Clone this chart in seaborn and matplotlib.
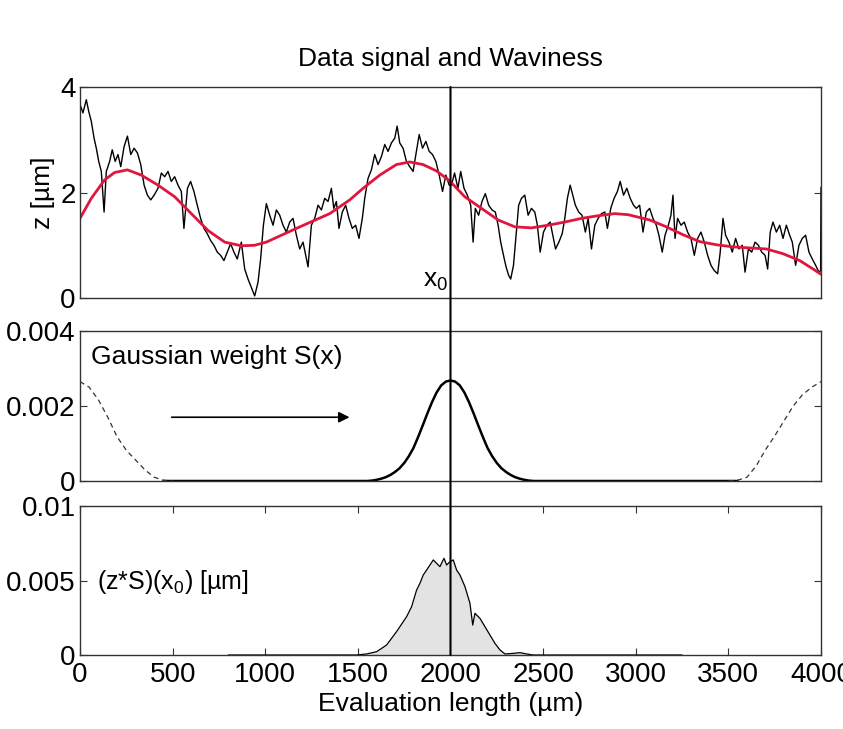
import matplotlib
matplotlib.use("Agg")
import matplotlib.pyplot as plt
from matplotlib.patches import ConnectionPatch
import seaborn as sns

# profile z (um)
z_x = [0, 16, 34, 47, 61, 76, 88, 101, 115, 130, 142, 160, 174, 190, 205, 220, 238, 256, 274, 292,
       310, 328, 346, 364, 382, 400, 421, 439, 457, 475, 493, 511, 529, 547, 561, 580, 597, 615, 633, 651,
       669, 687, 705, 723, 741, 759, 777, 795, 813, 831, 849, 871, 889, 907, 925, 943, 961, 975, 990, 1006,
       1024, 1042, 1060, 1078, 1096, 1114, 1132, 1150, 1168, 1186, 1204, 1222, 1231, 1249, 1267, 1285, 1303, 1321, 1339, 1357,
       1370, 1384, 1398, 1416, 1434, 1452, 1470, 1488, 1506, 1524, 1537, 1555, 1573, 1591, 1609, 1627, 1645, 1663, 1681, 1699,
       1712, 1726, 1744, 1762, 1780, 1798, 1816, 1831, 1849, 1867, 1885, 1903, 1921, 1939, 1957, 1975, 1993, 2005, 2022, 2040,
       2055, 2073, 2091, 2109, 2122, 2134, 2152, 2170, 2188, 2206, 2224, 2242, 2257, 2271, 2286, 2300, 2314, 2325, 2340, 2354,
       2368, 2383, 2401, 2419, 2437, 2455, 2469, 2484, 2502, 2520, 2538, 2552, 2567, 2585, 2603, 2617, 2631, 2646, 2660, 2674,
       2692, 2710, 2728, 2743, 2761, 2779, 2797, 2815, 2833, 2847, 2865, 2883, 2901, 2916, 2934, 2952, 2970, 2988, 3003, 3021,
       3039, 3057, 3075, 3093, 3111, 3125, 3143, 3158, 3176, 3190, 3201, 3212, 3226, 3244, 3262, 3280, 3298, 3316, 3334, 3352,
       3370, 3388, 3406, 3424, 3442, 3456, 3471, 3485, 3503, 3521, 3539, 3557, 3575, 3590, 3608, 3626, 3644, 3662, 3680, 3698,
       3712, 3726, 3741, 3759, 3777, 3795, 3813, 3831, 3845, 3863, 3881, 3899, 3917, 3935, 3953, 3971, 3989, 3998, 4000]
z_val = [3.67, 3.51, 3.76, 3.54, 3.35, 3.03, 2.84, 2.59, 2.40, 1.63, 2.40, 2.59, 2.81, 2.59, 2.72, 2.49, 2.87, 3.07, 2.72, 2.84,
         2.75, 2.53, 2.14, 1.95, 1.86, 1.95, 2.08, 2.37, 2.30, 2.40, 2.21, 2.30, 2.14, 2.02, 1.32, 2.08, 2.21, 2.02, 1.76, 1.51,
         1.32, 1.22, 1.09, 1.00, 0.87, 0.81, 0.71, 0.87, 1.03, 0.87, 0.74, 1.06, 0.55, 0.36, 0.20, 0.04, 0.30, 0.74, 1.38, 1.79,
         1.57, 1.38, 1.67, 1.57, 1.38, 1.25, 1.44, 1.51, 1.19, 0.93, 1.06, 0.74, 0.59, 1.38, 1.51, 1.76, 1.67, 1.89, 1.83, 2.08,
         1.70, 1.83, 1.32, 1.63, 1.76, 1.51, 1.32, 1.38, 1.13, 1.51, 1.89, 2.27, 2.43, 2.72, 2.53, 2.68, 2.91, 2.78, 2.94, 3.03,
         3.26, 2.94, 2.84, 2.59, 2.49, 2.40, 2.78, 3.10, 2.84, 2.97, 2.78, 2.72, 2.59, 2.33, 2.02, 2.33, 2.14, 2.14, 2.37, 2.08,
         2.40, 2.08, 1.95, 1.76, 1.06, 1.70, 1.57, 1.83, 1.98, 1.76, 1.67, 1.63, 1.38, 1.06, 0.81, 0.59, 0.43, 0.36, 0.62, 1.19,
         1.76, 1.89, 1.95, 1.57, 1.70, 1.63, 1.38, 0.87, 1.25, 1.38, 1.44, 1.19, 0.93, 1.06, 1.22, 1.51, 1.89, 2.14, 1.95, 1.76,
         1.63, 1.57, 1.25, 1.51, 0.93, 1.38, 1.51, 1.60, 1.63, 1.32, 1.70, 1.89, 2.02, 2.21, 1.95, 2.08, 1.89, 1.76, 1.70, 1.76,
         1.25, 1.63, 1.70, 1.51, 1.38, 1.19, 0.87, 1.19, 1.38, 1.57, 1.95, 1.13, 1.51, 1.38, 1.44, 1.25, 1.13, 0.81, 1.13, 1.25,
         1.06, 0.81, 0.62, 0.52, 0.46, 0.87, 1.51, 1.19, 1.06, 0.87, 1.13, 0.93, 1.00, 0.49, 0.93, 0.87, 1.06, 1.00, 0.87, 0.81,
         0.55, 1.25, 1.44, 1.25, 1.38, 1.13, 1.38, 1.19, 1.06, 0.62, 1.00, 1.13, 1.19, 0.87, 0.74, 0.62, 0.49, 0.52, 2.10]

# waviness (red)
w_x = [0, 61, 133, 187, 256, 331, 421, 511, 601, 691, 781, 871, 943, 1006, 1168, 1348, 1456, 1528, 1618, 1708,
       1780, 1852, 1924, 1996, 2077, 2167, 2257, 2347, 2437, 2527, 2617, 2707, 2797, 2887, 2959, 3075, 3165, 3255, 3345, 3435,
       3525, 3615, 3705, 3795, 3885, 3957, 4000]
w_val = [1.51, 1.89, 2.24, 2.38, 2.43, 2.33, 2.14, 1.92, 1.60, 1.28, 1.06, 0.99, 1.00, 1.06, 1.32, 1.60, 1.86, 2.08, 2.33, 2.53,
         2.58, 2.53, 2.41, 2.22, 1.92, 1.70, 1.48, 1.35, 1.33, 1.38, 1.44, 1.51, 1.56, 1.60, 1.58, 1.48, 1.35, 1.20, 1.07, 1.01,
         0.97, 0.95, 0.93, 0.84, 0.71, 0.55, 0.45]

# gaussian weight S(x), window at x0 = 2000
s_x = [450, 1550, 1575, 1600, 1625, 1650, 1675, 1700, 1725, 1750, 1775, 1800, 1825, 1850, 1875, 1900, 1925, 1950, 1975, 2000,
       2025, 2050, 2075, 2100, 2125, 2150, 2175, 2200, 2225, 2250, 2275, 2300, 2325, 2350, 2375, 2400, 2425, 2450, 3550]
s_val = [0, 0, 0.00001, 0.00003, 0.00006, 0.0001, 0.00016, 0.00024, 0.00034, 0.00048, 0.00066, 0.00088, 0.00117, 0.00148,
         0.0018, 0.0021, 0.00236, 0.00255, 0.00265, 0.00268,
         0.00265, 0.00255, 0.00236, 0.0021, 0.0018, 0.00148, 0.00117, 0.00088, 0.00066, 0.00048, 0.00034, 0.00024, 0.00016,
         0.0001, 0.00006, 0.00003, 0.00001, 0, 0]
s_left_x = [0, 50, 100, 150, 200, 250, 300, 350, 400, 450, 500]
s_left_val = [0.00265, 0.0025, 0.00216, 0.0017, 0.00118, 0.00082, 0.00056, 0.0003, 0.0001, 0.00002, 0]
s_right_x = [3500, 3550, 3600, 3650, 3700, 3750, 3800, 3850, 3900, 3950, 4000]
s_right_val = [0, 0.00002, 0.0001, 0.0004, 0.00083, 0.0012, 0.0016, 0.002, 0.0023, 0.0025, 0.00265]

# product (z*S)(x0)
p_x = [800, 1493, 1547, 1601, 1655, 1709, 1763, 1790, 1817, 1835, 1853, 1871, 1889, 1907, 1925, 1943, 1965, 1979, 1997, 2015,
       2033, 2051, 2078, 2105, 2120, 2132, 2159, 2186, 2213, 2240, 2267, 2294, 2339, 2375, 2411, 2447, 3250]
p_val = [0, 0, 0.00007, 0.00022, 0.00067, 0.00157, 0.00257, 0.00324, 0.00436, 0.00481, 0.00537, 0.0057, 0.00604, 0.00638,
         0.00615, 0.00593, 0.00649, 0.00604, 0.00626, 0.00638, 0.0057, 0.00537, 0.00459, 0.00347, 0.00201, 0.0028, 0.00246,
         0.0019, 0.00134, 0.00078, 0.00034, 0.00007, 0.00011, 0.00016, 0.00007, 0, 0]

x_ticks = [0, 500, 1000, 1500, 2000, 2500, 3000, 3500, 4000]
x0 = 2000

sns.set_theme(style="white")
plt.rcParams["font.family"] = ["Liberation Sans", "DejaVu Sans"]
plt.rcParams["mathtext.fontset"] = "custom"
plt.rcParams["mathtext.rm"] = "Liberation Sans"
plt.rcParams["mathtext.it"] = "Liberation Sans"
for key in ("text.color", "axes.labelcolor", "xtick.color", "ytick.color"):
    plt.rcParams[key] = "black"

fig = plt.figure(figsize=(8.43, 7.29), dpi=100)
ax1 = fig.add_axes([0.0949, 0.5912, 0.879, 0.2894])
ax2 = fig.add_axes([0.0949, 0.3402, 0.879, 0.2058])
ax3 = fig.add_axes([0.0949, 0.1015, 0.879, 0.2044])

# top: signal and waviness
sns.lineplot(x=z_x, y=z_val, ax=ax1, color="black", lw=1.0, estimator=None, sort=False)
sns.lineplot(x=w_x, y=w_val, ax=ax1, color="#e0163f", lw=2.0, estimator=None, sort=False)
ax1.set_ylim(0, 4)
ax1.set_yticks([0, 2, 4])
ax1.set_yticklabels(["0", "2", "4"])
ax1.set_ylabel("z [µm]", fontsize=19, labelpad=4)
ax1.set_title("Data signal and Waviness", fontsize=19, pad=15)
ax1.text(1850, 0.1, "x$_0$", fontsize=19, ha="left", va="bottom")

# middle: gaussian weight
sns.lineplot(x=s_x, y=s_val, ax=ax2, color="black", lw=1.8, estimator=None, sort=False)
sns.lineplot(x=s_left_x, y=s_left_val, ax=ax2, color="#333333", lw=0.9, linestyle=(0, (4, 3)),
             estimator=None, sort=False)
sns.lineplot(x=s_right_x, y=s_right_val, ax=ax2, color="#333333", lw=0.9, linestyle=(0, (4, 3)),
             estimator=None, sort=False)
ax2.set_ylim(0, 0.004)
ax2.set_yticks([0, 0.002, 0.004])
ax2.set_yticklabels(["0", "0.002", "0.004"])
ax2.text(60, 0.0033, "Gaussian weight S(x)", fontsize=19, va="center")
ax2.annotate("", xy=(1470, 0.0017), xytext=(480, 0.0017),
             arrowprops=dict(arrowstyle="-|>", color="black", lw=1.2, mutation_scale=16))

# bottom: product
ax3.fill_between(p_x, p_val, color="#e3e3e3", lw=0)
sns.lineplot(x=p_x, y=p_val, ax=ax3, color="black", lw=0.9, estimator=None, sort=False)
ax3.set_ylim(0, 0.01)
ax3.set_yticks([0, 0.005, 0.01])
ax3.set_yticklabels(["0", "0.005", "0.01"])
ax3.set_xticks(x_ticks)
ax3.set_xticklabels([str(t) for t in x_ticks])
ax3.set_xlabel("Evaluation length (µm)", fontsize=19, labelpad=3)
ax3.text(90, 0.0049, "(z*S)(x$_0$) [µm]", fontsize=18, va="center")

for ax in (ax1, ax2, ax3):
    ax.set_xlim(0, 4000)
    ax.tick_params(direction="in", length=5, width=0.8, labelsize=20, pad=3,
                   left=True, right=True, top=True, bottom=True, color="#333333")
    for sp in ax.spines.values():
        sp.set_visible(True)
        sp.set_color("#333333")
        sp.set_linewidth(1.0)
    if ax is not ax3:
        ax.set_xticks([])
    else:
        ax.tick_params(axis="x", pad=5)

# vertical marker at x0 through all panels
con = ConnectionPatch(xyA=(x0, 4), coordsA=ax1.transData, xyB=(x0, 0), coordsB=ax3.transData,
                      color="black", lw=1.5)
fig.add_artist(con)

fig.savefig("out.png", dpi=100)
